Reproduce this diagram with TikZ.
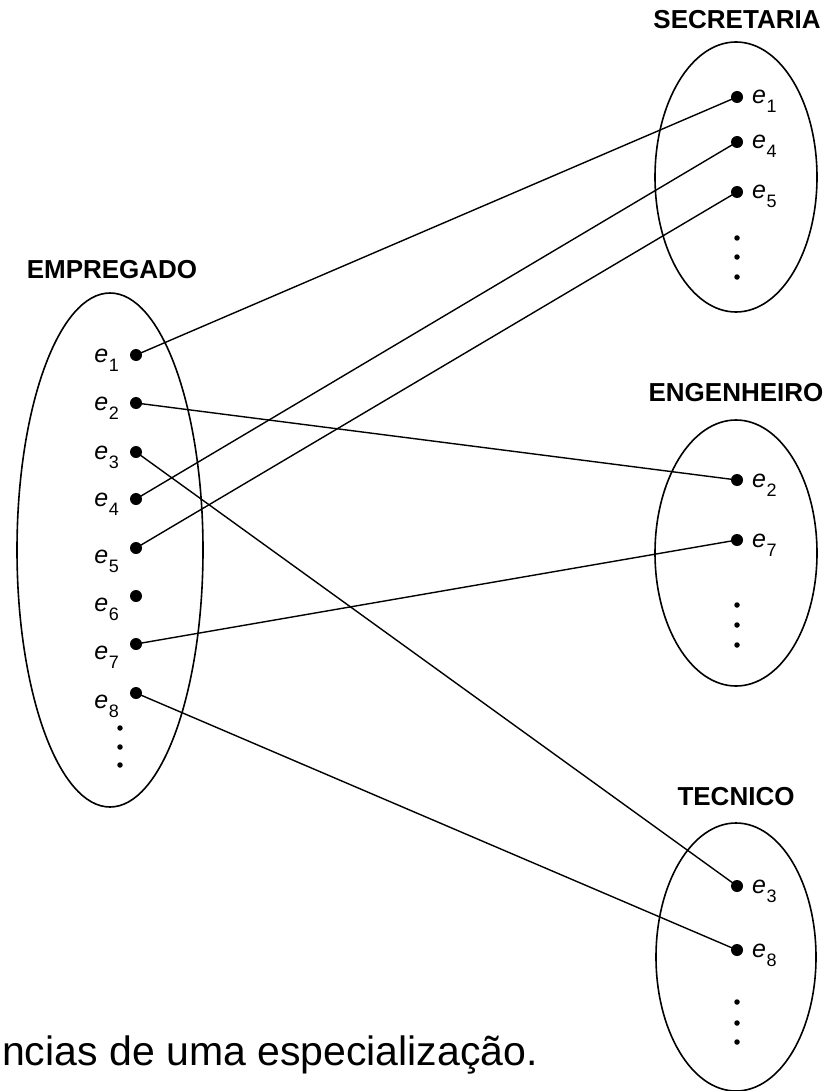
\documentclass[tikz,border=0pt]{standalone}
\usepackage{fontspec}
\setmainfont{Liberation Sans}
\usetikzlibrary{shapes.geometric}
\newcommand{\lbl}[1]{\textit{e}\hspace{0.5pt}\raisebox{-9pt}{\fontsize{18}{18}\selectfont #1}}
\begin{document}
\begin{tikzpicture}[x=1pt,y=-1pt,
  setell/.style={draw, ellipse, line width=1.6pt, inner sep=0pt},
  elem/.style={circle, fill=black, inner sep=0pt, minimum size=12pt},
  more/.style={circle, fill=black, inner sep=0pt, minimum size=5.5pt},
  link/.style={line width=1.4pt},
  title/.style={font=\fontsize{26}{26}\selectfont\bfseries, inner sep=0pt},
  lab/.style={font=\fontsize{25}{25}\selectfont, inner sep=0pt},
  caption/.style={font=\fontsize{41}{41}\selectfont, inner sep=0pt}]
\useasboundingbox (0,0) rectangle (827,1091);
\fill[white] (0,0) rectangle (827,1091);

% sets
\node[setell, minimum width=186pt, minimum height=514pt] (emp) at (110,550) {};
\node[setell, minimum width=162pt, minimum height=270pt] (sec) at (736,177) {};
\node[setell, minimum width=162pt, minimum height=266pt] (eng) at (736,553) {};
\node[setell, minimum width=160pt, minimum height=268pt] (tec) at (736,957) {};

% titles
\node[title] (tEmp) at (112,270) {EMPREGADO};
\node[title] (tSec) at (737,20) {SECRETARIA};
\node[title] (tEng) at (736,393) {ENGENHEIRO};
\node[title] (tTec) at (736,797) {TECNICO};

% EMPREGADO elements
\node[elem] (a1) at (136,355) {};
\node[elem] (a2) at (136,403) {};
\node[elem] (a3) at (136,452) {};
\node[elem] (a4) at (136,499) {};
\node[elem] (a5) at (136,548) {};
\node[elem] (a6) at (136,596) {};
\node[elem] (a7) at (136,644) {};
\node[elem] (a8) at (136,693) {};
\node[more] (am1) at (120,728) {};
\node[more] (am2) at (120,747) {};
\node[more] (am3) at (120,765) {};
\node[lab, anchor=base east] (la1) at (119,362) {\lbl{1}};
\node[lab, anchor=base east] (la2) at (119,410) {\lbl{2}};
\node[lab, anchor=base east] (la3) at (119,459) {\lbl{3}};
\node[lab, anchor=base east] (la4) at (119,506) {\lbl{4}};
\node[lab, anchor=base east] (la5) at (119,563) {\lbl{5}};
\node[lab, anchor=base east] (la6) at (119,611) {\lbl{6}};
\node[lab, anchor=base east] (la7) at (119,659) {\lbl{7}};
\node[lab, anchor=base east] (la8) at (119,708) {\lbl{8}};

% SECRETARIA elements
\node[elem] (s1) at (737,97) {};
\node[elem] (s4) at (737,142) {};
\node[elem] (s5) at (737,192) {};
\node[more] (sm1) at (737,238) {};
\node[more] (sm2) at (737,257) {};
\node[more] (sm3) at (737,277) {};
\node[lab, anchor=base west] (ls1) at (752,104) {\lbl{1}};
\node[lab, anchor=base west] (ls4) at (752,149) {\lbl{4}};
\node[lab, anchor=base west] (ls5) at (752,199) {\lbl{5}};

% ENGENHEIRO elements
\node[elem] (n2) at (737,480) {};
\node[elem] (n7) at (737,540) {};
\node[more] (nm1) at (737,605) {};
\node[more] (nm2) at (737,625) {};
\node[more] (nm3) at (737,645) {};
\node[lab, anchor=base west] (ln2) at (752,487) {\lbl{2}};
\node[lab, anchor=base west] (ln7) at (752,547) {\lbl{7}};

% TECNICO elements
\node[elem] (t3) at (737,886) {};
\node[elem] (t8) at (737,950) {};
\node[more] (tm1) at (737,1002) {};
\node[more] (tm2) at (737,1023) {};
\node[more] (tm3) at (737,1042) {};
\node[lab, anchor=base west] (lt3) at (752,893) {\lbl{3}};
\node[lab, anchor=base west] (lt8) at (752,957) {\lbl{8}};

% links
\draw[link] (a1.center) -- (s1.center);
\draw[link] (a2.center) -- (n2.center);
\draw[link] (a3.center) -- (t3.center);
\draw[link] (a4.center) -- (s4.center);
\draw[link] (a5.center) -- (s5.center);
\draw[link] (a7.center) -- (n7.center);
\draw[link] (a8.center) -- (t8.center);

% caption
\node[caption, anchor=base west] (cap) at (2,1065) {ncias de uma especialização.};
\end{tikzpicture}
\end{document}
